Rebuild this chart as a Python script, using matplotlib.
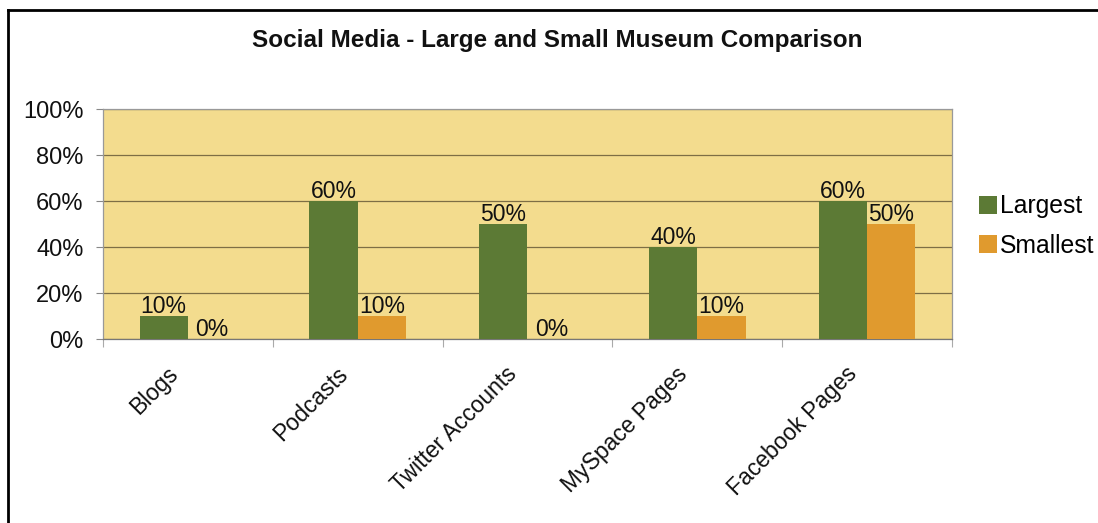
import matplotlib
matplotlib.use("Agg")
import matplotlib.pyplot as plt
import matplotlib.transforms as mtransforms
import numpy as np
from matplotlib.lines import Line2D
from matplotlib.patches import Patch

plt.rcParams['font.family'] = ['Liberation Sans', 'DejaVu Sans']

categories = ["Blogs", "Podcasts", "Twitter Accounts", "MySpace Pages", "Facebook Pages"]
largest = [10, 60, 50, 40, 60]
smallest = [0, 10, 0, 10, 50]
yticks = [0, 20, 40, 60, 80, 100]
title = "Social Media - Large and Small Museum Comparison"

W, H = 1098, 523
fig = plt.figure(figsize=(W / 100, H / 100), dpi=100)
fig.patch.set_facecolor('white')

ax = fig.add_axes([103 / W, 1 - 339 / H, (952 - 103) / W, (339 - 109) / H])
ax.set_facecolor('#f3dc8e')

x = np.arange(len(categories))
bw = 0.285
green = '#5c7a35'
orange = '#e09a2e'
b1 = ax.bar(x - bw / 2, largest, bw, color=green, zorder=3)
b2 = ax.bar(x + bw / 2, smallest, bw, color=orange, zorder=3)

for rects, vals in ((b1, largest), (b2, smallest)):
    for r, v in zip(rects, vals):
        ax.annotate(f"{v}%", (r.get_x() + r.get_width() / 2, v),
                    xytext=(0, -1.5), textcoords='offset points',
                    ha='center', va='bottom', fontsize=16.5, color='#111111', zorder=4)

ax.set_xlim(-0.5, len(categories) - 0.5)
ax.set_ylim(0, 100)
ax.set_yticks(yticks)
ax.set_yticklabels([f"{t}%" for t in yticks], fontsize=17, color='#111111')
ax.yaxis.grid(True, color='#7d6e45', linewidth=0.9, zorder=1)
ax.tick_params(axis='y', length=5, width=0.8, color='#888888', pad=9)

ax.set_xticks(np.arange(len(categories) + 1) - 0.5)
ax.set_xticklabels([])
ax.set_xticks(x, minor=True)
ax.set_xticklabels(categories, minor=True, rotation=45, ha='right',
                   rotation_mode='anchor', fontsize=16.5, color='#111111')
ax.tick_params(axis='x', which='major', length=6, width=0.8, color='#aaaaaa', direction='out')
ax.tick_params(axis='x', which='minor', length=0, pad=17)
offset = mtransforms.ScaledTranslation(-22 / 100, 0, fig.dpi_scale_trans)
for lab in ax.xaxis.get_minorticklabels():
    lab.set_transform(lab.get_transform() + offset)

for s in ax.spines.values():
    s.set_color('#999999')
    s.set_linewidth(0.9)
ax.spines['bottom'].set_color('#777777')

fig.text(557 / W, 1 - 40 / H, title, ha='center', va='center',
         fontsize=17.5, fontweight='bold', color='#111111')

handles = [Patch(facecolor=green, edgecolor='none'), Patch(facecolor=orange, edgecolor='none')]
fig.legend(handles, ["Largest", "Smallest"], loc='center left',
           bbox_to_anchor=(957 / W, 1 - 226 / H), frameon=False, fontsize=17.8,
           handlelength=0.72, handleheight=0.72, handletextpad=0.12, labelspacing=0.62)

fig.add_artist(Line2D([8 / W, 8 / W], [0, 1 - 10 / H], color='black', linewidth=2,
                      transform=fig.transFigure))
fig.add_artist(Line2D([8 / W, 1], [1 - 10 / H, 1 - 10 / H], color='black', linewidth=2,
                      transform=fig.transFigure))

fig.savefig("out.png", dpi=100, facecolor='white')
